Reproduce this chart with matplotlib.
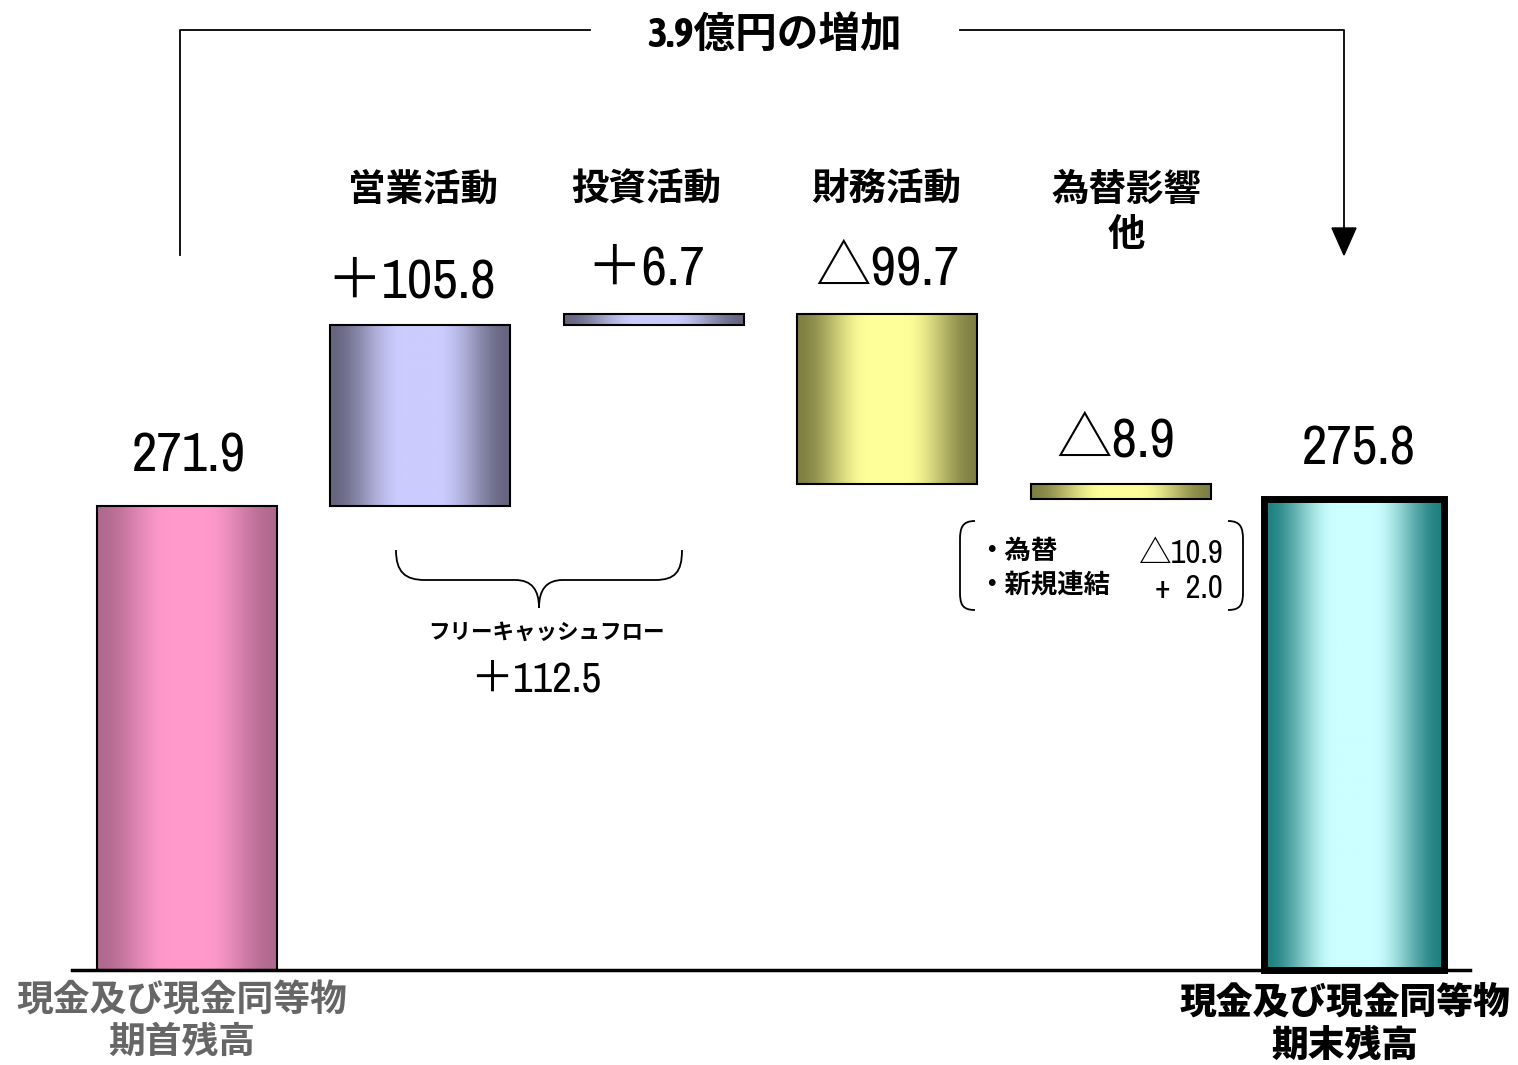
import numpy as np
import matplotlib
matplotlib.use('Agg')
import matplotlib.pyplot as plt
from matplotlib import font_manager
from matplotlib.path import Path
from matplotlib.patches import PathPatch, Polygon

# data
steps = ['期首残高', '営業活動', '投資活動', '財務活動', '為替影響他', '期末残高']
start_bal = 271.9
changes = [105.8, 6.7, -99.7, -8.9]
end_bal = 275.8
value_labels = ['271.9', '＋105.8', '＋6.7', '△99.7', '△8.9', '275.8']
cat_labels = ['営業活動', '投資活動', '財務活動', '為替影響\n他']
fx_items = ['・為替', '・新規連結']
fx_values = ['△10.9', '+  2.0']
fcf_label = 'フリーキャッシュフロー'
fcf_value = '＋112.5'
total_label = '3.9億円の増加'

names = {f.name for f in font_manager.fontManager.ttflist}
narrow = next((n for n in ['Archivo Narrow', 'Asap Condensed', 'Liberation Sans Narrow']
               if n in names), 'DejaVu Sans')
narrow_bold = next((n for n in ['Asap Condensed', 'Archivo Narrow'] if n in names),
                   'DejaVu Sans')
num_font = [narrow, 'Noto Sans CJK JP', 'DejaVu Sans']
jp_font = ['Noto Sans CJK JP', 'DejaVu Sans']
plt.rcParams['font.family'] = jp_font

# bottoms / heights for the waterfall
bottoms = [0]
heights = [start_bal]
level = start_bal
for c in changes:
    bottoms.append(level if c > 0 else level + c)
    heights.append(abs(c))
    level += c
bottoms.append(0)
heights.append(end_bal)

edge_cols = [(0.69, 0.41, 0.56), (0.40, 0.40, 0.50), (0.40, 0.40, 0.50),
             (0.50, 0.50, 0.26), (0.50, 0.50, 0.26), (0.12, 0.50, 0.50)]
mid_cols = [(1.0, 0.60, 0.80), (0.80, 0.80, 1.0), (0.80, 0.80, 1.0),
            (1.0, 1.0, 0.60), (1.0, 1.0, 0.60), (0.80, 1.0, 1.0)]

W, H = 1518, 1065
fig = plt.figure(figsize=(W / 100, H / 100), dpi=100)
ax = fig.add_axes([0, 0, 1, 1])
x = np.arange(len(steps))
bw = 0.771
bars = ax.bar(x, heights, bw, bottom=bottoms, facecolor='none',
              edgecolor='black', linewidth=1.5, zorder=3)
bars[-1].set_linewidth(5)

u = np.linspace(0, 1, 200)
prof = np.clip((1 - np.abs(2 * u - 1)) * 1.25, 0, 1)
prof = prof * prof * (3 - 2 * prof)
for i, b in enumerate(bars):
    e = np.array(edge_cols[i])
    m = np.array(mid_cols[i])
    grad = (e[None, :] + (m - e)[None, :] * prof[:, None])[None, :, :]
    ax.imshow(grad, extent=[b.get_x(), b.get_x() + bw, b.get_y(), b.get_y() + b.get_height()],
              aspect='auto', interpolation='bilinear', zorder=2)

# pixel layout: baseline at y=970, 1.707 px per unit, first bar centre at x=187
ppu = 1.707
spacing = 233.4
ax.set_ylim(-(H - 970) / ppu, 970 / ppu)
ax.set_xlim(-187 / spacing, (W - 187) / spacing)
ax.axis('off')

# value labels above bars
tops = [b + h for b, h in zip(bottoms, heights)]
gaps = [34, 28, 29, 29, 28, 35]
nudge = [0.01, -0.04, -0.035, 0, -0.02, 0.02]
for i, t in enumerate(value_labels):
    ax.text(x[i] + nudge[i], tops[i] + gaps[i] / ppu, t, ha='center', va='baseline',
            fontsize=40, family=num_font)

# overlay in pixel coordinates for decorations
ov = fig.add_axes([0, 0, 1, 1], facecolor='none')
ov.set_xlim(0, W)
ov.set_ylim(H, 0)
ov.axis('off')

ov.plot([72, 1470], [970, 970], color='black', lw=2.5, zorder=5)

# category labels
for cx, t in zip([423, 646, 886, 1126], cat_labels):
    ov.text(cx, 170, t, ha='center', va='top', fontsize=27, fontweight='bold',
            linespacing=1.2)

# top bracket with arrow
ov.plot([180, 180, 590], [255, 30, 30], color='black', lw=1.3)
ov.plot([960, 1344, 1344], [30, 30, 232], color='black', lw=1.3)
ov.add_patch(Polygon([[1332, 228], [1356, 228], [1344, 255]], closed=True,
                     color='black'))
ov.text(775, 36, total_label, ha='center', va='center', fontsize=30,
        fontweight='bold', family=[narrow_bold, 'Noto Sans CJK JP', 'DejaVu Sans'])

# free cash flow brace
verts = [(396, 550), (396, 572), (405, 580), (425, 580), (515, 580),
         (532, 580), (539, 590), (539, 608),
         (539, 590), (546, 580), (563, 580), (655, 580),
         (675, 580), (682, 572), (682, 550)]
codes = [Path.MOVETO, Path.CURVE4, Path.CURVE4, Path.CURVE4, Path.LINETO,
         Path.CURVE4, Path.CURVE4, Path.CURVE4,
         Path.CURVE4, Path.CURVE4, Path.CURVE4, Path.LINETO,
         Path.CURVE4, Path.CURVE4, Path.CURVE4]
ov.add_patch(PathPatch(Path(verts, codes), fill=False, lw=1.3))
ov.text(546, 632, fcf_label, ha='center', va='center', fontsize=15.5,
        fontweight='bold')
ov.text(536, 692, fcf_value, ha='center', va='baseline', fontsize=31,
        family=num_font)

# fx breakdown with round brackets
lb = [(975, 521), (962, 521), (960, 528), (960, 540), (960, 592),
      (960, 604), (962, 610), (975, 610)]
bc = [Path.MOVETO, Path.CURVE4, Path.CURVE4, Path.CURVE4, Path.LINETO,
      Path.CURVE4, Path.CURVE4, Path.CURVE4]
rb = [(2203 - px, py) for px, py in lb]
ov.add_patch(PathPatch(Path(lb, bc), fill=False, lw=1.3))
ov.add_patch(PathPatch(Path(rb, bc), fill=False, lw=1.3))
for yy, item, val in zip([551, 586], fx_items, fx_values):
    ov.text(978, yy, item, ha='left', va='center', fontsize=19, fontweight='bold')
    ov.text(1223, yy + 12, val, ha='right', va='baseline', fontsize=23.5,
            family=num_font)

# bottom labels
ov.text(182, 982, '現金及び現金同等物\n期首残高', ha='center', va='top',
        fontsize=26.5, fontweight='bold', color='#666666', linespacing=1.15)
ov.text(1345, 984, '現金及び現金同等物\n期末残高', ha='center', va='top',
        fontsize=26.5, fontweight='heavy', color='black', linespacing=1.15)

fig.savefig('out.png', dpi=100)
